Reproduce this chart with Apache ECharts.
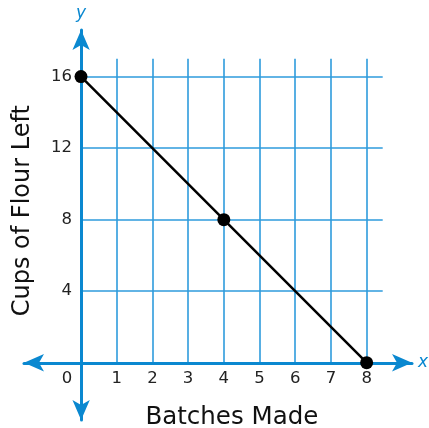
<!DOCTYPE html>
<html><head><meta charset="utf-8">
<script src="https://cdn.jsdelivr.net/npm/echarts@6/dist/echarts.min.js"></script>
<style>html,body{margin:0;padding:0;background:#fff}#c{width:429px;height:428px}</style>
</head><body><div id="c"></div>
<script>
const batches = [0, 4, 8];
const flourLeft = [16, 8, 0];
const xTicks = [0, 1, 2, 3, 4, 5, 6, 7, 8];
const yTicks = [4, 8, 12, 16];
const xTitle = 'Batches Made';
const yTitle = 'Cups of Flour Left';

const blue = '#0a88d0';
const gridBlue = '#2e9bdc';
const font = 'DejaVu Sans';

const chart = echarts.init(document.getElementById('c'));
chart.setOption({
  animation: false,
  grid: [
    {left: 81, top: 58.7, width: 301.7, height: 304, outerBoundsMode: 'none', containLabel: false},
    {left: 24, top: 30, width: 388, height: 390, outerBoundsMode: 'none', containLabel: false}
  ],
  xAxis: [
    {gridIndex: 0, type: 'value', min: 0, max: 8.45, interval: 1,
     axisLine: {show: false}, axisTick: {show: false},
     splitLine: {show: true, showMinLine: false, showMaxLine: false, lineStyle: {color: gridBlue, width: 1.6}},
     axisLabel: {margin: 8, fontSize: 16.5, color: '#222', fontFamily: font,
       showMaxLabel: false,
       formatter: v => xTicks.includes(v) ? (v === 0 ? '{z|0}' : String(v)) : '',
       rich: {z: {padding: [0, 28, 0, 0], fontSize: 16.5, color: '#222', fontFamily: font}}},
     name: xTitle, nameLocation: 'middle', nameGap: 42,
     nameTextStyle: {fontSize: 24.5, color: '#111', fontFamily: font}},
    {gridIndex: 1, type: 'value', min: -1.6, max: 9.27,
     axisLine: {show: true, onZero: true, symbol: ['arrow', 'arrow'], symbolSize: [13, 20], lineStyle: {color: blue, width: 3}},
     axisTick: {show: false}, axisLabel: {show: false}, splitLine: {show: false},
     name: 'x', nameLocation: 'end', nameGap: 6,
     nameTextStyle: {fontSize: 17, color: blue, fontStyle: 'italic', fontFamily: font, verticalAlign: 'middle'}}
  ],
  yAxis: [
    {gridIndex: 0, type: 'value', min: 0, max: 17, interval: 4,
     axisLine: {show: false}, axisTick: {show: false},
     splitLine: {show: true, showMinLine: false, showMaxLine: false, lineStyle: {color: gridBlue, width: 1.6}},
     axisLabel: {margin: 9, fontSize: 16.5, color: '#222', fontFamily: font,
       formatter: v => yTicks.includes(v) ? String(v) : ''},
     name: yTitle, nameLocation: 'middle', nameGap: 46,
     nameTextStyle: {fontSize: 24, color: '#111', fontFamily: font}},
    {gridIndex: 1, type: 'value', min: -3.2, max: 18.61,
     axisLine: {show: true, onZero: true, symbol: ['arrow', 'arrow'], symbolSize: [13, 20], lineStyle: {color: blue, width: 3}},
     axisTick: {show: false}, axisLabel: {show: false}, splitLine: {show: false},
     name: 'y', nameLocation: 'end', nameGap: 8,
     nameTextStyle: {fontSize: 17, color: blue, fontStyle: 'italic', fontFamily: font}}
  ],
  series: [{
    type: 'line', xAxisIndex: 0, yAxisIndex: 0, clip: false,
    data: batches.map((b, i) => [b, flourLeft[i]]),
    symbol: 'circle', symbolSize: 13, z: 10,
    lineStyle: {color: '#000', width: 2.5},
    itemStyle: {color: '#000'}
  }]
});
</script></body></html>
